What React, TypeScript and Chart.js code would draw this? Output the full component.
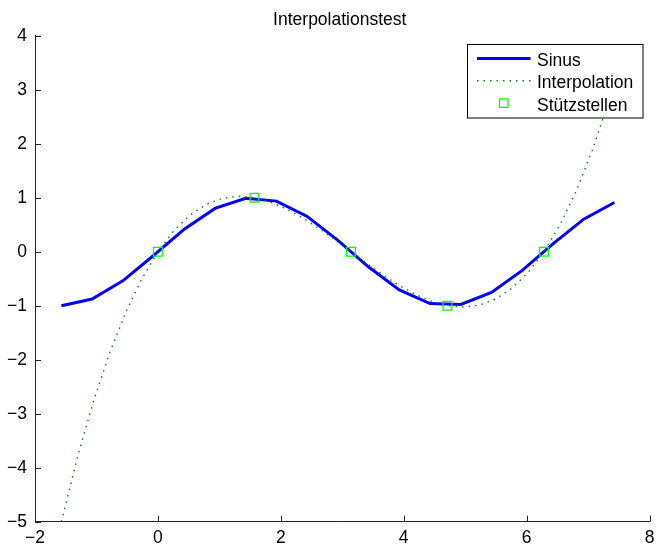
import React, { useEffect, useRef } from "react";
import { Chart, registerables } from "chart.js";

Chart.register(...registerables);

// ---- data ----
const titleText = "Interpolationstest";
const seriesLabels = ["Sinus", "Interpolation", "Stützstellen"];

const sinusX = [-1.5708, -1.0708, -0.5708, -0.0708, 0.4292, 0.9292, 1.4292, 1.9292, 2.4292, 2.9292, 3.4292, 3.9292, 4.4292, 4.9292, 5.4292, 5.9292, 6.4292, 6.9292, 7.4292];
const sinusY = [-1.0, -0.8776, -0.5403, -0.0707, 0.4161, 0.8011, 0.99, 0.9365, 0.6536, 0.2108, -0.2837, -0.7087, -0.9602, -0.9766, -0.7539, -0.3466, 0.1455, 0.602, 0.9111];

const interpX = [-1.5708, -1.309, -1.0472, -0.7854, -0.5236, -0.2618, 0, 0.2618, 0.5236, 0.7854, 1.0472, 1.309, 1.5708, 1.8326, 2.0944, 2.3562, 2.618, 2.8798, 3.1416, 3.4034, 3.6652, 3.927, 4.1888, 4.4506, 4.7124, 4.9742, 5.236, 5.4978, 5.7596, 6.0214, 6.2832, 6.545, 6.8068, 7.0686, 7.3304, 7.4292];
const interpY = [-5.0, -3.804, -2.7654, -1.875, -1.1235, -0.5015, 0, 0.3904, 0.679, 0.875, 0.9877, 1.0262, 1.0, 0.9182, 0.7901, 0.625, 0.4321, 0.2207, 0, -0.2207, -0.4321, -0.625, -0.7901, -0.9182, -1.0, -1.0262, -0.9877, -0.875, -0.679, -0.3904, 0, 0.5015, 1.1235, 1.875, 2.7654, 3.1395];

const nodeX = [0, 1.5708, 3.1416, 4.7124, 6.2832];
const nodeY = [0, 1, 0, -1, 0];

const xTicks = [-2, 0, 2, 4, 6, 8];
const xTickLabels = ["\u22122", "0", "2", "4", "6", "8"];
const yTicks = [-5, -4, -3, -2, -1, 0, 1, 2, 3, 4];
const yTickLabels = ["\u22125", "\u22124", "\u22123", "\u22122", "\u22121", "0", "1", "2", "3", "4"];

const FONT = "'Liberation Sans', Arial, Helvetica, sans-serif";
const FONT_SIZE = 17.5;
const AXIS_COLOR = "#262626";

const toPoints = (xs: number[], ys: number[]) => xs.map((x, i) => ({ x, y: ys[i] }));

const titlePlugin = {
  id: "axesTitle",
  afterDraw(chart: any) {
    const { ctx, chartArea } = chart;
    ctx.save();
    ctx.font = `${FONT_SIZE}px ${FONT}`;
    ctx.fillStyle = "#000";
    ctx.textAlign = "center";
    ctx.textBaseline = "alphabetic";
    ctx.fillText(titleText, (chartArea.left + chartArea.right) / 2 - 2.5, 24.5);
    ctx.restore();
  },
};

const inwardTicks = {
  id: "inwardTicks",
  afterDatasetsDraw(chart: any) {
    const { ctx, chartArea, scales } = chart;
    ctx.save();
    ctx.strokeStyle = AXIS_COLOR;
    ctx.lineWidth = 1;
    ctx.beginPath();
    xTicks.forEach((v) => {
      const px = Math.round(scales.x.getPixelForValue(v)) + 0.5;
      ctx.moveTo(px, chartArea.bottom);
      ctx.lineTo(px, chartArea.bottom - 6);
    });
    yTicks.forEach((v) => {
      const py = Math.round(scales.y.getPixelForValue(v)) + 0.5;
      ctx.moveTo(chartArea.left, py);
      ctx.lineTo(chartArea.left + 6, py);
    });
    ctx.stroke();
    ctx.restore();
  },
};

const boxLegend = {
  id: "boxLegend",
  afterDraw(chart: any) {
    const { ctx, chartArea } = chart;
    const w = 176.5;
    const h = 74.5;
    const x0 = Math.round(chartArea.right - 6.5 - w);
    const y0 = Math.round(chartArea.top + 8.3);
    ctx.save();
    ctx.fillStyle = "#ffffff";
    ctx.fillRect(x0, y0, w, h);
    ctx.strokeStyle = "#000000";
    ctx.lineWidth = 1;
    ctx.strokeRect(x0 + 0.5, y0 + 0.5, w - 1, h - 1);
    ctx.font = `${FONT_SIZE}px ${FONT}`;
    ctx.textBaseline = "alphabetic";
    ctx.textAlign = "left";
    const order = [0, 1, 2];
    order.forEach((di, row) => {
      const ds = chart.data.datasets[di];
      const sy = y0 + 14.5 + row * 22.2;
      if (ds.showLine !== false) {
        ctx.save();
        ctx.strokeStyle = ds.borderColor;
        ctx.lineWidth = ds.borderWidth;
        ctx.setLineDash(ds.borderDash || []);
        ctx.beginPath();
        ctx.moveTo(x0 + 10, sy);
        ctx.lineTo(x0 + 63.5, sy);
        ctx.stroke();
        ctx.restore();
      } else {
        ctx.save();
        ctx.strokeStyle = ds.pointBorderColor;
        ctx.lineWidth = ds.pointBorderWidth;
        ctx.strokeRect(x0 + 32.5, sy - 4, 8.5, 8.5);
        ctx.restore();
      }
      ctx.fillStyle = "#000";
      ctx.fillText(ds.label, x0 + 70, sy + 7.7);
    });
    ctx.restore();
  },
};

export default function App() {
  const ref = useRef<HTMLCanvasElement | null>(null);

  useEffect(() => {
    if (!ref.current) return;
    Chart.defaults.font.family = FONT;
    Chart.defaults.font.size = FONT_SIZE;
    Chart.defaults.color = "#000";

    const chart = new Chart(ref.current, {
      type: "line",
      data: {
        datasets: [
          {
            label: seriesLabels[0],
            data: toPoints(sinusX, sinusY),
            borderColor: "#0000ff",
            borderWidth: 3,
            pointRadius: 0,
            fill: false,
            tension: 0,
            order: 3,
          },
          {
            label: seriesLabels[1],
            data: toPoints(interpX, interpY),
            borderColor: "#0c800c",
            borderWidth: 1.4,
            borderDash: [1.5, 5],
            pointRadius: 0,
            fill: false,
            tension: 0,
            order: 2,
          },
          {
            label: seriesLabels[2],
            data: toPoints(nodeX, nodeY),
            showLine: false,
            borderColor: "#00ff00",
            borderWidth: 0,
            pointStyle: "rect",
            pointRadius: 6.2,
            pointBorderWidth: 1.3,
            pointBorderColor: "#00ff00",
            pointBackgroundColor: "rgba(0,0,0,0)",
            order: 1,
          },
        ],
      } as any,
      options: {
        responsive: false,
        animation: false,
        devicePixelRatio: 1,
        layout: { padding: { left: 0, right: 5, top: 35.7, bottom: 0 } },
        plugins: {
          legend: { display: false },
          tooltip: { enabled: false },
          title: { display: false },
        },
        scales: {
          x: {
            type: "linear",
            min: -2,
            max: 8,
            afterBuildTicks: (s: any) => {
              s.ticks = xTicks.map((v) => ({ value: v }));
            },
            afterFit: (s: any) => {
              s.height = 26.3;
              s.paddingLeft = 0;
              s.paddingRight = 0;
              s.paddingTop = 0;
              s.paddingBottom = 0;
            },
            ticks: {
              padding: 5.5,
              color: "#000",
              font: { size: FONT_SIZE, family: FONT },
              maxRotation: 0,
              callback: (v: any) => {
                const i = xTicks.indexOf(Number(v));
                return i >= 0 ? xTickLabels[i] : "";
              },
            },
            grid: { display: true, drawOnChartArea: false, drawTicks: false, color: AXIS_COLOR },
            border: { display: true, color: AXIS_COLOR, width: 1 },
          },
          y: {
            type: "linear",
            min: -5,
            max: 4,
            afterBuildTicks: (s: any) => {
              s.ticks = yTicks.map((v) => ({ value: v }));
            },
            afterFit: (s: any) => {
              s.width = 35;
              s.paddingLeft = 0;
              s.paddingRight = 0;
              s.paddingTop = 0;
              s.paddingBottom = 0;
            },
            ticks: {
              padding: 8,
              color: "#000",
              font: { size: FONT_SIZE, family: FONT },
              callback: (v: any) => {
                const i = yTicks.indexOf(Number(v));
                return i >= 0 ? yTickLabels[i] : "";
              },
            },
            grid: { display: true, drawOnChartArea: false, drawTicks: false, color: AXIS_COLOR },
            border: { display: true, color: AXIS_COLOR, width: 1 },
          },
        },
      } as any,
      plugins: [inwardTicks, boxLegend, titlePlugin],
    });
    return () => chart.destroy();
  }, []);

  return (
    <div style={{ position: "fixed", left: 0, top: 0, width: 657, height: 548, background: "#fff" }}>
      <canvas ref={ref} width={657} height={548} style={{ display: "block", width: 657, height: 548 }} />
    </div>
  );
}
